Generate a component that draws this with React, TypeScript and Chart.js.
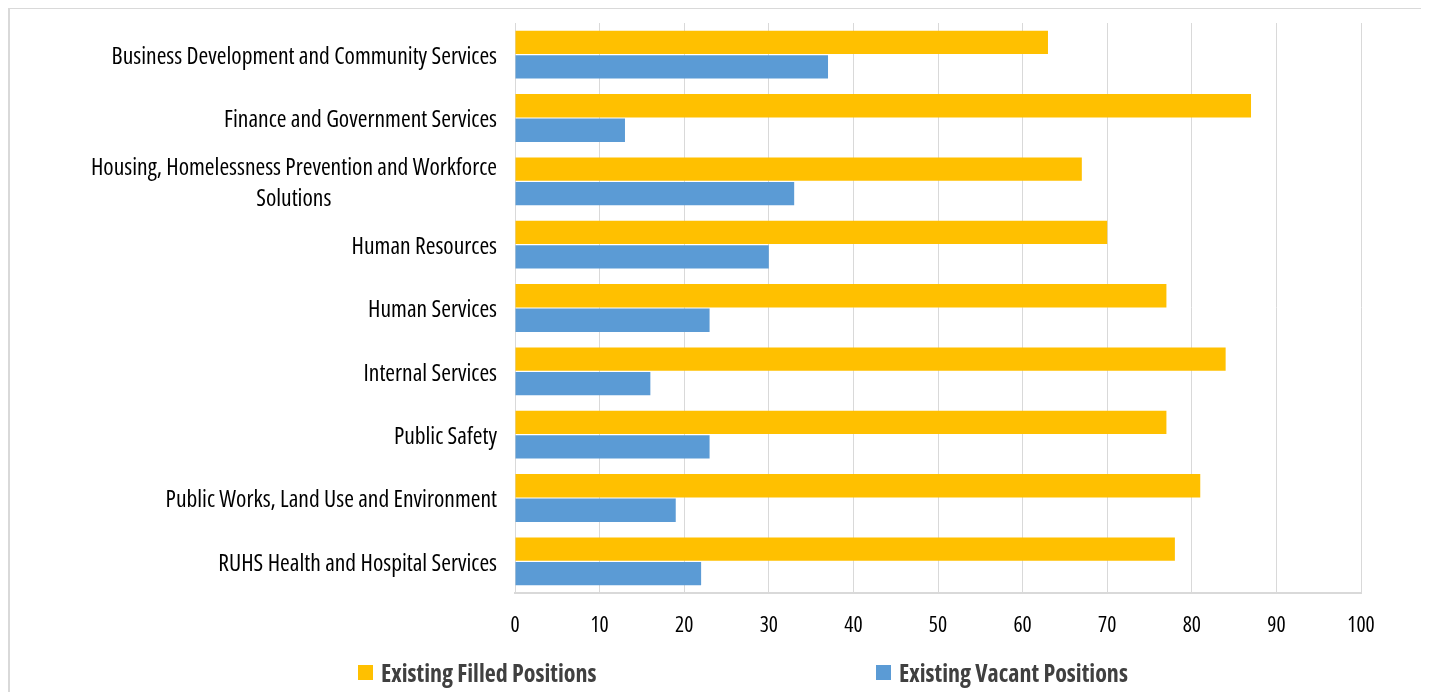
import React, { useEffect, useRef } from "react";
import { Chart, registerables } from "chart.js";

Chart.register(...registerables);

const categories: (string | string[])[] = [
  "Business Development and Community Services",
  "Finance and Government Services",
  ["Housing, Homelessness Prevention and Workforce", "Solutions"],
  "Human Resources",
  "Human Services",
  "Internal Services",
  "Public Safety",
  "Public Works, Land Use and Environment",
  "RUHS Health and Hospital Services",
];
const filledPositions = [63, 87, 67, 70, 77, 84, 77, 81, 78];
const vacantPositions = [37, 13, 33, 30, 23, 16, 23, 19, 22];
const seriesNames = ["Existing Filled Positions", "Existing Vacant Positions"];
const seriesColors = ["#FFC000", "#5B9BD5"];

const FAMILY = "'Open Sans', sans-serif";
const LABEL_SIZE = 23.5;
const STRETCH = "condensed";

function centerLines(lines: string[]): string[] {
  const c = document.createElement("canvas").getContext("2d");
  if (!c) return lines;
  c.font = `${STRETCH} ${LABEL_SIZE}px ${FAMILY}`;
  const widest = Math.max(...lines.map((l) => c.measureText(l).width));
  const sp = c.measureText(" ").width || 5;
  return lines.map((l) => {
    const w = c.measureText(l).width;
    const n = Math.round((widest - w) / 2 / sp);
    return l + " ".repeat(Math.max(0, n));
  });
}

export default function App() {
  const ref = useRef<HTMLCanvasElement | null>(null);
  useEffect(() => {
    if (!ref.current) return;
    const displayLabels = categories.map((c) => (Array.isArray(c) ? centerLines(c) : c));
    const chart = new Chart(ref.current, {
      type: "bar",
      data: {
        labels: displayLabels,
        datasets: [
          {
            label: seriesNames[0],
            data: filledPositions,
            backgroundColor: seriesColors[0],
            barPercentage: 0.95,
            categoryPercentage: 0.775,
          },
          {
            label: seriesNames[1],
            data: vacantPositions,
            backgroundColor: seriesColors[1],
            barPercentage: 0.95,
            categoryPercentage: 0.775,
          },
        ],
      },
      options: {
        indexAxis: "y",
        animation: false,
        responsive: false,
        maintainAspectRatio: false,
        layout: { padding: { top: 14, right: 62, left: 0, bottom: 0 } },
        plugins: { legend: { display: false }, tooltip: { enabled: false } },
        scales: {
          x: {
            min: 0,
            max: 100,
            ticks: {
              stepSize: 10,
              color: "#000",
              padding: 20,
              font: { family: FAMILY, size: 21.5, weight: STRETCH as any },
            },
            grid: { color: "#d9d9d9", lineWidth: 1, drawTicks: false },
            border: { display: true, color: "#d9d9d9", width: 2 },
            afterFit: (s: any) => {
              s.height = 97;
              s.paddingLeft = 0;
              s.paddingRight = 0;
            },
          },
          y: {
            ticks: {
              color: "#000",
              padding: 18,
              autoSkip: false,
              labelOffset: 2.5,
              font: { family: FAMILY, size: LABEL_SIZE, lineHeight: 1.28, weight: STRETCH as any },
            },
            grid: { display: false, drawTicks: false },
            border: { display: true, color: "#d9d9d9", width: 1 },
            afterFit: (s: any) => {
              s.width = 505;
              s.paddingTop = 0;
              s.paddingBottom = 0;
            },
          },
        },
      },
    });
    return () => chart.destroy();
  }, []);

  const legendItem = (i: number, sqLeft: number) => (
    <div
      key={i}
      style={{
        position: "absolute",
        left: sqLeft,
        top: 648,
        height: 30,
        display: "flex",
        alignItems: "center",
      }}
    >
      <div style={{ width: 15, height: 15, background: seriesColors[i], marginRight: 8 }} />
      <span
        style={{
          fontFamily: FAMILY,
          fontStretch: "condensed",
          fontWeight: 700,
          fontSize: 24,
          color: "#404040",
          whiteSpace: "nowrap",
        }}
      >
        {seriesNames[i]}
      </span>
    </div>
  );

  return (
    <div
      style={{
        position: "relative",
        width: 1417,
        height: 700,
        marginTop: -1,
        border: "2px solid #d9d9d9",
        boxSizing: "border-box",
        background: "#fff",
      }}
    >
      <canvas ref={ref} width={1413} height={681} style={{ position: "absolute", left: 0, top: 0 }} />
      {legendItem(0, 348)}
      {legendItem(1, 866)}
    </div>
  );
}
